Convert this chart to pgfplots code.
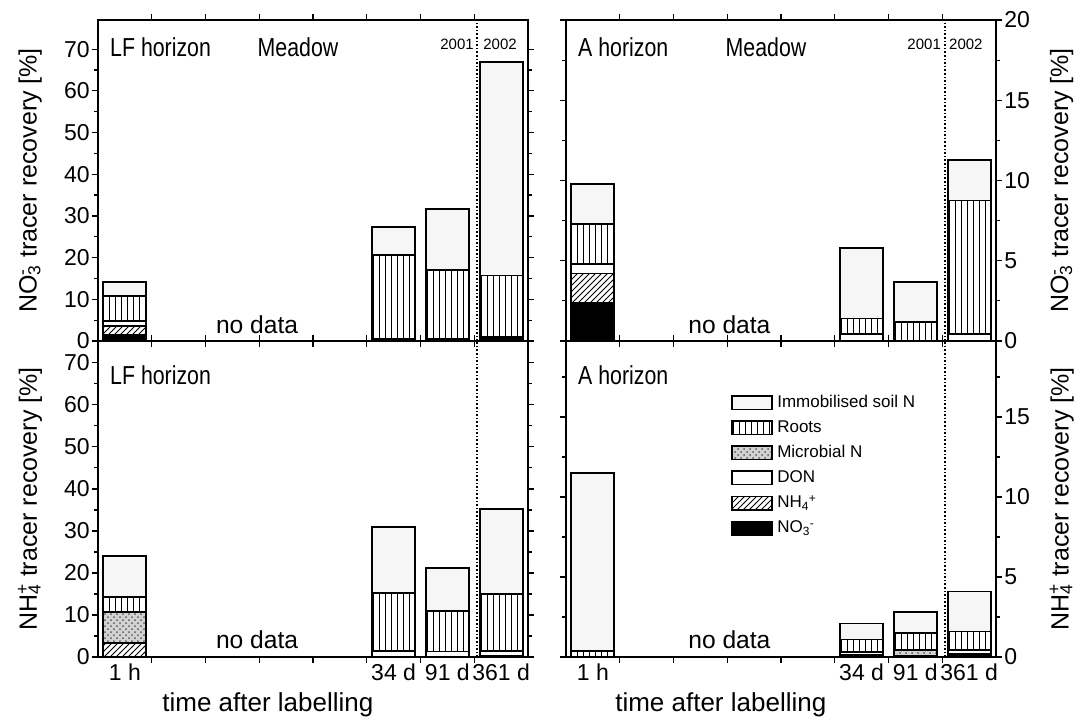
\documentclass[border=0pt]{standalone}
\usepackage{fontspec}
\setmainfont{Liberation Sans}
\usepackage{graphicx}
\usepackage{pgfplots}
\pgfplotsset{compat=1.18}
\usetikzlibrary{patterns}

\newcommand{\nothree}{NO\rlap{\textsuperscript{-}}\textsubscript{3}}
\newcommand{\nhfour}{NH\rlap{\textsuperscript{+}}\textsubscript{4}}
% legend versions: sub and sup side by side
\newcommand{\nothreeL}{NO\textsubscript{3}\kern-0.3pt\textsuperscript{-}}
\newcommand{\nhfourL}{NH\textsubscript{4}\kern-0.3pt\textsuperscript{+}}

\pgfplotsset{
  panel/.style={
    scale only axis, width=215pt,
    xmin=-0.5, xmax=7.5, ymin=0,
    ybar stacked, bar width=0.8,
    xtick={0.5,1.5,...,6.5}, xticklabels={},
    tick align=outside, major tick length=3pt, minor tick length=2pt,
    axis line style={line width=0.9pt},
    tick style={line width=0.6pt, black},
    /pgf/number format/assume math mode=true,
    tick label style={font=\fontsize{11.5}{13}\selectfont},
    yticklabel style={inner sep=1pt},
    ylabel style={font=\fontsize{12.5}{14}\selectfont},
    xlabel style={font=\fontsize{13}{15}\selectfont},
  },
  leftpanel/.style={panel, ytick={0,10,...,70}, minor y tick num=1,
    ylabel style={at={(axis description cs:-0.158,0.5)}, anchor=center}},
  rightpanel/.style={panel, ymax=20, ytick={0,5,...,20}, minor y tick num=1,
    yticklabel pos=right,
    ylabel style={at={(axis description cs:1.153,0.5)}, anchor=center}},
  labelled/.style={extra x ticks={0,5,6,7},
    extra x tick labels={1 h,34 d,91 d,361 d},
    extra x tick style={major tick length=0pt}},
  legimg/.style={legend image code/.code={\draw[##1] (0pt,-3.3pt) rectangle (20pt,3.3pt);}},
  sNO/.style={draw=black, line width=0.9pt, fill=black, legimg},
  sNH/.style={draw=black, line width=0.9pt, preaction={fill=white}, pattern=north east lines, legimg},
  sDON/.style={draw=black, line width=0.9pt, fill=white, legimg},
  sMic/.style={draw=black, line width=0.9pt, preaction={fill=gray!35}, pattern=crosshatch dots, pattern color=gray!70!black, legimg},
  sRoot/.style={draw=black, line width=0.9pt, preaction={fill=white}, pattern=vertical lines, legimg},
  sImm/.style={draw=black, line width=0.9pt, fill=gray!7, legimg},
}
\newcommand{\titletext}[1]{{\fontsize{13}{15}\selectfont\scalebox{0.82}[1]{#1}}}
\newcommand{\yearfont}{\fontsize{7.5}{8}\selectfont}
\newcommand{\nodatafont}{\fontsize{12.3}{14}\selectfont}

\begin{document}
\begin{tikzpicture}
\useasboundingbox (-49pt,-31pt) rectangle (492.5pt,328.5pt);

% ---- top left: LF horizon, NO3- tracer
\begin{axis}[leftpanel, at={(0pt,158pt)}, anchor=south west, height=160.5pt, ymax=77,
  ylabel={\nothree\ tracer recovery [\%]}]
\addplot[sNO] coordinates {(0,1.4) (5,0) (6,0) (7,0.8)};
\addplot[sNH] coordinates {(0,2.2) (5,0) (6,0) (7,0)};
\addplot[sDON] coordinates {(0,1.2) (5,0.5) (6,0.5) (7,0.3)};
\addplot[sMic] coordinates {(0,0) (5,0) (6,0) (7,0)};
\addplot[sRoot] coordinates {(0,6.0) (5,20.2) (6,16.6) (7,14.6)};
\addplot[sImm] coordinates {(0,3.3) (5,6.7) (6,14.6) (7,51.3)};
\draw[densely dotted, line width=0.8pt] (rel axis cs:0.881,0) -- (rel axis cs:0.881,1);
\node[anchor=west] at (rel axis cs:0.012,0.916) {\titletext{LF horizon}};
\node[anchor=west] at (rel axis cs:0.355,0.916) {\titletext{Meadow}};
\node[font=\yearfont] at (rel axis cs:0.835,0.925) {2001};
\node[font=\yearfont] at (rel axis cs:0.935,0.925) {2002};
\node[font=\nodatafont] at (rel axis cs:0.37,0.05) {no data};
\end{axis}

% ---- top right: A horizon, NO3- tracer
\begin{axis}[rightpanel, at={(234pt,158pt)}, anchor=south west, height=160.5pt,
  ylabel={\nothree\ tracer recovery [\%]}]
\addplot[sNO] coordinates {(0,2.4) (5,0) (6,0) (7,0)};
\addplot[sNH] coordinates {(0,1.8) (5,0) (6,0) (7,0)};
\addplot[sDON] coordinates {(0,0.6) (5,0.45) (6,0) (7,0.45)};
\addplot[sMic] coordinates {(0,0) (5,0) (6,0) (7,0)};
\addplot[sRoot] coordinates {(0,2.5) (5,0.95) (6,1.2) (7,8.3)};
\addplot[sImm] coordinates {(0,2.5) (5,4.4) (6,2.5) (7,2.55)};
\draw[densely dotted, line width=0.8pt] (rel axis cs:0.881,0) -- (rel axis cs:0.881,1);
\node[anchor=west] at (rel axis cs:0.012,0.916) {\titletext{A horizon}};
\node[anchor=west] at (rel axis cs:0.355,0.916) {\titletext{Meadow}};
\node[font=\yearfont] at (rel axis cs:0.833,0.925) {2001};
\node[font=\yearfont] at (rel axis cs:0.93,0.925) {2002};
\node[font=\nodatafont] at (rel axis cs:0.38,0.05) {no data};
\end{axis}

% ---- bottom left: LF horizon, NH4+ tracer
\begin{axis}[leftpanel, labelled, at={(0pt,0pt)}, anchor=south west, height=158pt, ymax=75.2,
  ylabel={\nhfour\ tracer recovery [\%]},
  xlabel={time after labelling},
  xlabel style={at={(axis description cs:0.395,-0.152)}, anchor=center}]
\addplot[sNO] coordinates {(0,0) (5,0) (6,0) (7,0.3)};
\addplot[sNH] coordinates {(0,3.3) (5,0) (6,0) (7,0)};
\addplot[sDON] coordinates {(0,0) (5,1.5) (6,1.3) (7,1.2)};
\addplot[sMic] coordinates {(0,7.4) (5,0) (6,0) (7,0)};
\addplot[sRoot] coordinates {(0,3.6) (5,13.7) (6,9.7) (7,13.5)};
\addplot[sImm] coordinates {(0,9.7) (5,15.8) (6,10.2) (7,20.2)};
\draw[densely dotted, line width=0.8pt] (rel axis cs:0.881,0) -- (rel axis cs:0.881,1);
\node[anchor=west] at (rel axis cs:0.012,0.892) {\titletext{LF horizon}};
\node[font=\nodatafont] at (rel axis cs:0.37,0.055) {no data};
\end{axis}

% ---- bottom right: A horizon, NH4+ tracer
\begin{axis}[rightpanel, labelled, at={(234pt,0pt)}, anchor=south west, height=158pt, ymax=19.75,
  ylabel={\nhfour\ tracer recovery [\%]},
  xlabel={time after labelling},
  xlabel style={at={(axis description cs:0.36,-0.152)}, anchor=center},
  reverse legend,
  legend style={draw=none, fill=none, at={(0.37,0.855)}, anchor=north west,
    font=\fontsize{8.5}{10}\selectfont, row sep=1pt},
  legend cell align=left]
\addplot[sNO] coordinates {(0,0) (5,0.15) (6,0) (7,0.2)};
\addlegendentry{\nothreeL}
\addplot[sNH] coordinates {(0,0) (5,0) (6,0) (7,0)};
\addlegendentry{\nhfourL}
\addplot[sDON] coordinates {(0,0) (5,0.15) (6,0.1) (7,0.25)};
\addlegendentry{DON}
\addplot[sMic] coordinates {(0,0) (5,0) (6,0.35) (7,0)};
\addlegendentry{Microbial N}
\addplot[sRoot] coordinates {(0,0.4) (5,0.8) (6,1.05) (7,1.15)};
\addlegendentry{Roots}
\addplot[sImm] coordinates {(0,11.1) (5,1.0) (6,1.3) (7,2.5)};
\addlegendentry{Immobilised soil N}
\draw[densely dotted, line width=0.8pt] (rel axis cs:0.881,0) -- (rel axis cs:0.881,1);
\node[anchor=west] at (rel axis cs:0.012,0.892) {\titletext{A horizon}};
\node[font=\nodatafont] at (rel axis cs:0.38,0.055) {no data};
\end{axis}
\end{tikzpicture}
\end{document}
